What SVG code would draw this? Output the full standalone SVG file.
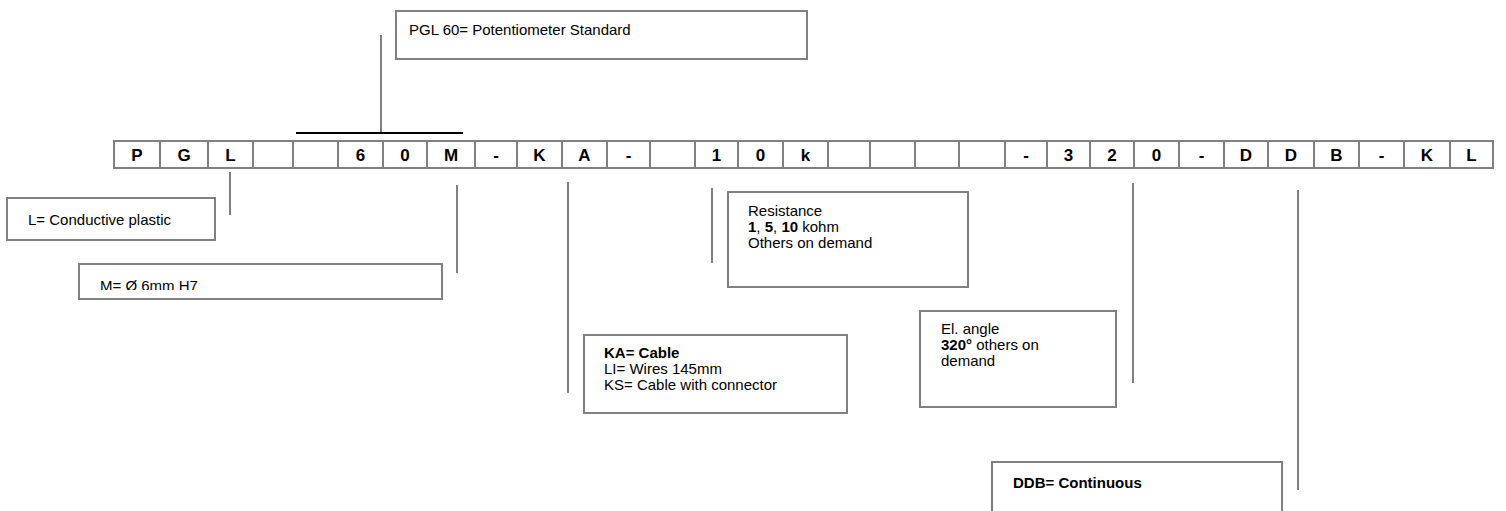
<svg xmlns="http://www.w3.org/2000/svg" width="1506" height="511" viewBox="0 0 1506 511">
<style>
.box{fill:#fff;stroke:#808080;stroke-width:2}
.cell{fill:none;stroke:#808080;stroke-width:2}
.ln{stroke:#808080;stroke-width:2;fill:none}
.c{font-family:"Liberation Sans",Arial,sans-serif;font-weight:bold;font-size:17px;text-anchor:middle;fill:#000}
.t{font-family:"Liberation Sans",Arial,sans-serif;font-size:15px;fill:#000}
.b{font-weight:bold}
</style>
<defs>
<clipPath id="mclip"><rect x="80" y="265" width="360" height="25"/></clipPath>
</defs>
<rect width="1506" height="511" fill="#fff"/>
<g id="code">
<rect class="cell" x="114" y="141" width="1379" height="27"/>
<path class="ln" d="M160 141V168M208 141V168M253 141V168M293 141V168M338 141V168M383 141V168M427 141V168M475 141V168M517 141V168M562 141V168M607 141V168M650 141V168M695 141V168M738 141V168M783 141V168M828 141V168M870 141V168M915 141V168M959 141V168M1005 141V168M1047 141V168M1090 141V168M1134 141V168M1179 141V168M1224 141V168M1268 141V168M1314 141V168M1359 141V168M1404 141V168M1450 141V168"/>
<text class="c" x="137" y="161">P</text>
<text class="c" x="184" y="161">G</text>
<text class="c" x="230.5" y="161">L</text>
<text class="c" x="360.5" y="161">6</text>
<text class="c" x="405" y="161">0</text>
<text class="c" x="451" y="161">M</text>
<text class="c" x="496" y="161">-</text>
<text class="c" x="539.5" y="161">K</text>
<text class="c" x="584.5" y="161">A</text>
<text class="c" x="628.5" y="161">-</text>
<text class="c" x="716.5" y="161">1</text>
<text class="c" x="760.5" y="161">0</text>
<text class="c" x="805.5" y="161">k</text>
<text class="c" x="1026" y="161">-</text>
<text class="c" x="1068.5" y="161">3</text>
<text class="c" x="1112" y="161">2</text>
<text class="c" x="1156.5" y="161">0</text>
<text class="c" x="1201.5" y="161">-</text>
<text class="c" x="1246" y="161">D</text>
<text class="c" x="1291" y="161">D</text>
<text class="c" x="1336.5" y="161">B</text>
<text class="c" x="1381.5" y="161">-</text>
<text class="c" x="1427" y="161">K</text>
<text class="c" x="1471.5" y="161">L</text>
</g>
<g id="connectors">
<line x1="296" y1="133" x2="463" y2="133" stroke="#000" stroke-width="2"/>
<line class="ln" x1="381" y1="35" x2="381" y2="132"/>
<line class="ln" x1="230" y1="172" x2="230" y2="215"/>
<line class="ln" x1="457" y1="185" x2="457" y2="273"/>
<line class="ln" x1="568" y1="182" x2="568" y2="393"/>
<line class="ln" x1="712" y1="188" x2="712" y2="263"/>
<line class="ln" x1="1133" y1="183" x2="1133" y2="383"/>
<line class="ln" x1="1298" y1="190" x2="1298" y2="490"/>
</g>
<g id="pgl">
<rect class="box" x="396" y="11" width="411" height="48"/>
<text class="t" x="409" y="35">PGL 60= Potentiometer Standard</text>
</g>
<g id="l-box">
<rect class="box" x="7" y="198" width="208" height="42"/>
<text class="t" x="28" y="225">L= Conductive plastic</text>
</g>
<g id="m-box">
<rect class="box" x="79" y="264" width="363" height="35"/>
<text class="t" x="100" y="291" clip-path="url(#mclip)">M= Ø 6mm H7</text>
</g>
<g id="ka-box">
<rect class="box" x="584" y="335" width="263" height="78"/>
<text class="t" x="604" y="358"><tspan class="b">KA= Cable</tspan></text>
<text class="t" x="604" y="374">LI= Wires 145mm</text>
<text class="t" x="604" y="390">KS= Cable with connector</text>
</g>
<g id="res-box">
<rect class="box" x="728" y="192" width="240" height="95"/>
<text class="t" x="748" y="216">Resistance</text>
<text class="t" x="748" y="232"><tspan class="b">1</tspan>, <tspan class="b">5</tspan>, <tspan class="b">10</tspan> kohm</text>
<text class="t" x="748" y="248">Others on demand</text>
</g>
<g id="angle-box">
<rect class="box" x="920" y="311" width="196" height="96"/>
<text class="t" x="941" y="334">El. angle</text>
<text class="t" x="941" y="350"><tspan class="b">320°</tspan> others on</text>
<text class="t" x="941" y="366">demand</text>
</g>
<g id="ddb-box">
<rect class="box" x="992" y="462" width="290" height="60"/>
<text class="t b" x="1013" y="488">DDB= Continuous</text>
</g>
</svg>
